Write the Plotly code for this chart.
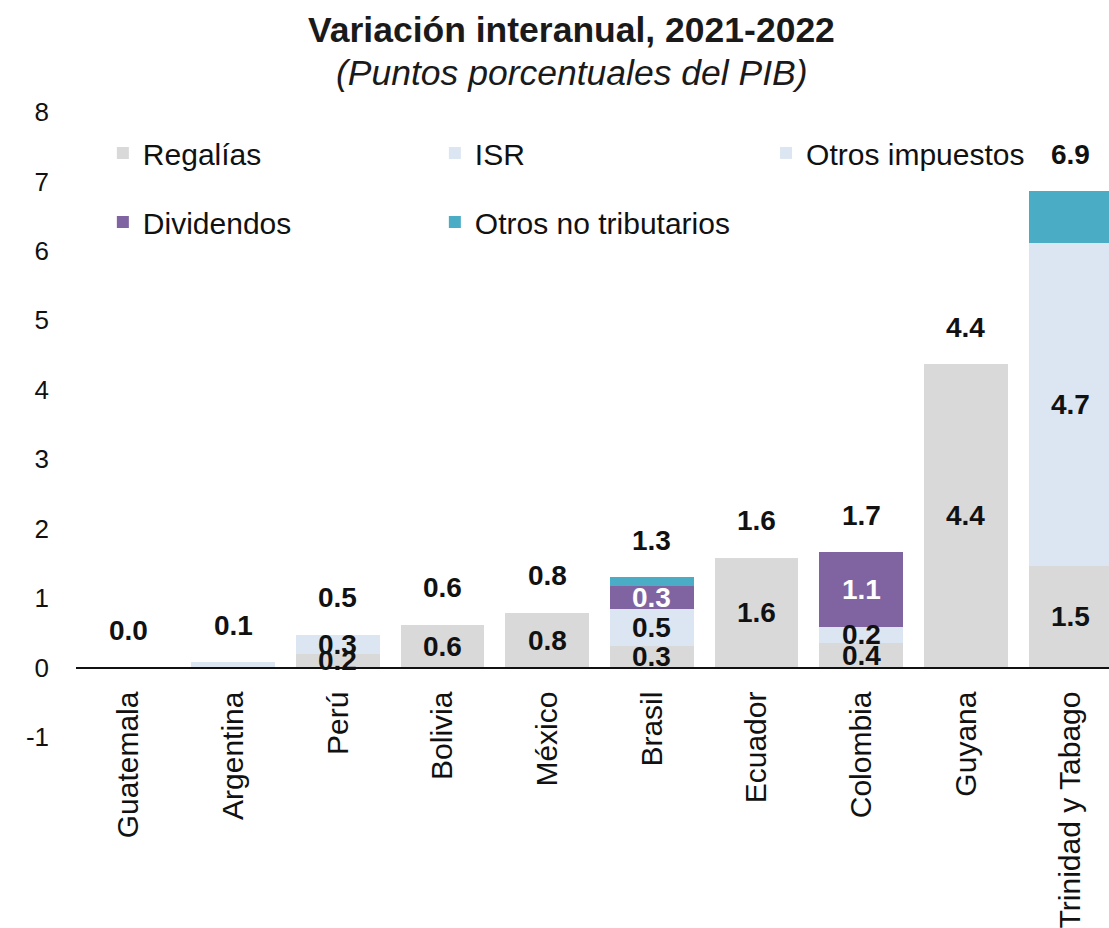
import plotly.graph_objects as go

countries = ["Guatemala", "Argentina", "Perú", "Bolivia", "México", "Brasil",
             "Ecuador", "Colombia", "Guyana", "Trinidad y Tabago"]

regalias = [0.0, 0.0, 0.19, 0.62, 0.79, 0.31, 1.58, 0.36, 4.37, 1.46]
isr = [0.0, 0.08, 0.28, 0.0, 0.0, 0.53, 0.0, 0.22, 0.0, 0.0]
otros_impuestos = [0.0, 0.0, 0.0, 0.0, 0.0, 0.0, 0.0, 0.0, 0.0, 4.66]
dividendos = [0.0, 0.0, 0.0, 0.0, 0.0, 0.33, 0.0, 1.08, 0.0, 0.0]
otros_no_trib = [0.0, 0.0, 0.0, 0.0, 0.0, 0.13, 0.0, 0.0, 0.0, 0.74]

y_ticks = [-1, 0, 1, 2, 3, 4, 5, 6, 7, 8]
y_tick_text = ["-1", "0", "1", "2", "3", "4", "5", "6", "7", "8"]

series = [
    ("Regalías", regalias, "#d9d9d9", "legend", True, "#111111"),
    ("ISR", isr, "#dce6f2", "legend", True, "#111111"),
    ("Otros impuestos", otros_impuestos, "#dce6f2", "legend3", True, "#111111"),
    ("Dividendos", dividendos, "#8064a2", "legend2", True, "#ffffff"),
    ("Otros no tributarios", otros_no_trib, "#4bacc6", "legend2", False, "#111111"),
]

FONT = "Liberation Sans, Arial, sans-serif"

fig = go.Figure()
annotations = []
base = [0.0] * len(countries)
for name, vals, color, leg, labeled, tcolor in series:
    fig.add_trace(go.Bar(
        x=countries, y=vals, name=name, marker=dict(color=color, line=dict(width=0)),
        legend=leg,
    ))
    for i, v in enumerate(vals):
        if labeled and v >= 0.15:
            annotations.append(dict(
                x=countries[i], y=base[i] + v / 2, xref="x", yref="y",
                text=f"<b>{v:.1f}</b>", showarrow=False,
                font=dict(family=FONT, size=28, color=tcolor),
            ))
        base[i] += v

for i, tot in enumerate(base):
    annotations.append(dict(
        x=countries[i], y=tot, xref="x", yref="y", yshift=37,
        text=f"<b>{tot:.1f}</b>", showarrow=False,
        font=dict(family=FONT, size=28, color="#111111"),
    ))

annotations.append(dict(
    x=0.480, y=1.131, xref="paper", yref="paper", showarrow=False,
    xanchor="center", yanchor="middle",
    text="<b>Variación interanual, 2021-2022</b>",
    font=dict(family=FONT, size=35.5, color="#1a1a1a"),
))
annotations.append(dict(
    x=0.480, y=1.0624, xref="paper", yref="paper", showarrow=False,
    xanchor="center", yanchor="middle",
    text="<i>(Puntos porcentuales del PIB)</i>",
    font=dict(family=FONT, size=35.5, color="#1a1a1a"),
))

legend_common = dict(
    orientation="h", xref="paper", yref="paper", xanchor="left", yanchor="middle",
    bgcolor="rgba(0,0,0,0)", font=dict(family=FONT, size=30, color="#111111"),
    entrywidth=287, entrywidthmode="pixels", traceorder="normal",
)

fig.update_layout(
    width=1109, height=928,
    margin=dict(l=76, r=0, t=112, b=190.5, autoexpand=False),
    plot_bgcolor="white", paper_bgcolor="white",
    barmode="stack", bargap=0.2,
    showlegend=True,
    legend=dict(x=0.026, y=0.9345, **legend_common),
    legend3=dict(x=0.668, y=0.9345, **legend_common),
    legend2=dict(x=0.026, y=0.824, **legend_common),
    annotations=annotations,
    xaxis=dict(
        range=[-0.5, 9.366], anchor="free", position=1 / 9, automargin=False,
        showline=True, linecolor="#111111", linewidth=2,
        showgrid=False, ticks="", tickangle=-90,
        tickfont=dict(family=FONT, size=30, color="#111111"),
        ticklabelstandoff=11,
    ),
    yaxis=dict(
        range=[-1, 8], tickvals=y_ticks, ticktext=y_tick_text, automargin=False,
        showgrid=False, zeroline=False, showline=False,
        ticks="", tickfont=dict(family=FONT, size=26, color="#111111"),
        ticklabelstandoff=26,
    ),
)

fig.write_html(
    "out.html",
    config={"displayModeBar": False},
    post_script="document.body.style.margin='0px';document.body.style.overflow='hidden';",
)
